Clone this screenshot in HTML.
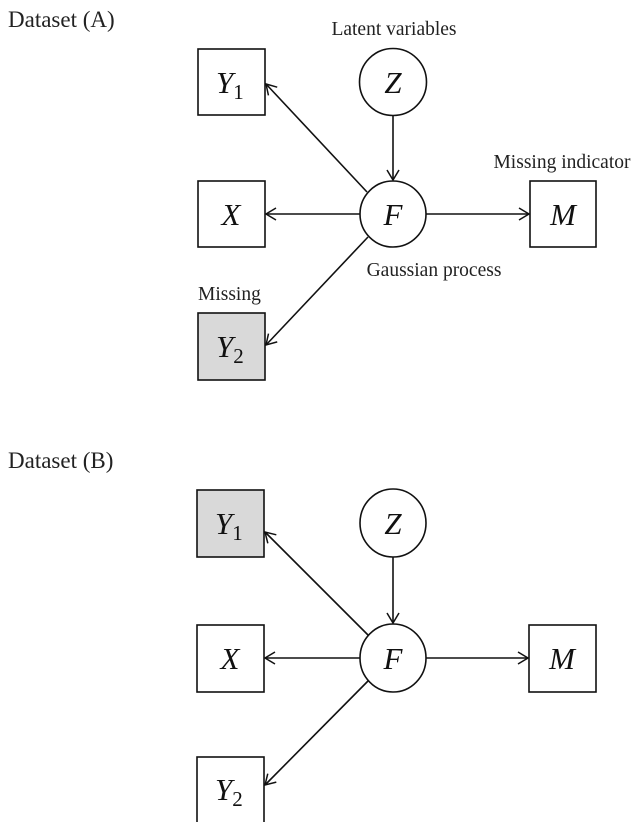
<!DOCTYPE html>
<html><head><style>
html,body{margin:0;padding:0;background:#fff;}
svg{display:block;}
.t{font-family:"Liberation Serif",serif;fill:#222;}
.m{font-family:"Liberation Serif",serif;font-style:italic;fill:#111;}
</style></head><body>
<svg width="640" height="822" viewBox="0 0 640 822" xmlns="http://www.w3.org/2000/svg">
<defs>
<marker id="a" markerWidth="14" markerHeight="14" refX="11" refY="7" orient="auto" markerUnits="userSpaceOnUse">
<path d="M1,1 L11,7 L1,13" fill="none" stroke="#111" stroke-width="1.5"/>
</marker>
</defs>
<g stroke="#111" stroke-width="1.6" fill="none">
<rect x="198" y="49" width="67" height="66" fill="#fff"/>
<circle cx="393" cy="82" r="33.5" fill="#fff"/>
<rect x="198" y="181" width="67" height="66" fill="#fff"/>
<circle cx="393" cy="214" r="33" fill="#fff"/>
<rect x="530" y="181" width="66" height="66" fill="#fff"/>
<rect x="198" y="313" width="67" height="67" fill="#d9d9d9"/>
<line x1="393" y1="116" x2="393" y2="180" marker-end="url(#a)"/>
<line x1="367" y1="192" x2="266" y2="84" marker-end="url(#a)"/>
<line x1="360" y1="214" x2="266" y2="214" marker-end="url(#a)"/>
<line x1="426" y1="214" x2="529" y2="214" marker-end="url(#a)"/>
<line x1="368" y1="237" x2="266" y2="345" marker-end="url(#a)"/>
<rect x="197" y="490" width="67" height="67" fill="#d9d9d9"/>
<ellipse cx="393" cy="523" rx="33" ry="34" fill="#fff"/>
<rect x="197" y="625" width="67" height="67" fill="#fff"/>
<ellipse cx="393" cy="658" rx="33" ry="34" fill="#fff"/>
<rect x="529" y="625" width="67" height="67" fill="#fff"/>
<rect x="197" y="757" width="67" height="70" fill="#fff"/>
<line x1="393" y1="557" x2="393" y2="623" marker-end="url(#a)"/>
<line x1="368" y1="635" x2="265" y2="532" marker-end="url(#a)"/>
<line x1="360" y1="658" x2="265" y2="658" marker-end="url(#a)"/>
<line x1="426" y1="658" x2="528" y2="658" marker-end="url(#a)"/>
<line x1="368" y1="681" x2="265" y2="785" marker-end="url(#a)"/>
</g>
<text class="t" x="8" y="27" font-size="23">Dataset (A)</text>
<text class="t" x="394" y="35" font-size="19.5" text-anchor="middle">Latent variables</text>
<text class="t" x="562" y="168" font-size="19.5" text-anchor="middle">Missing indicator</text>
<text class="t" x="434" y="276" font-size="19.5" text-anchor="middle">Gaussian process</text>
<text class="t" x="198" y="300" font-size="19.5">Missing</text>
<text class="t" x="8" y="468" font-size="23">Dataset (B)</text>
<g font-size="31">
<text class="m" x="216" y="93">Y<tspan font-style="normal" font-size="21" dy="6">1</tspan></text>
<text class="m" x="393" y="93" text-anchor="middle">Z</text>
<text class="m" x="231" y="225" text-anchor="middle">X</text>
<text class="m" x="393" y="225" text-anchor="middle">F</text>
<text class="m" x="563" y="225" text-anchor="middle">M</text>
<text class="m" x="216" y="357">Y<tspan font-style="normal" font-size="21" dy="6">2</tspan></text>
<text class="m" x="215" y="534">Y<tspan font-style="normal" font-size="21" dy="6">1</tspan></text>
<text class="m" x="393" y="534" text-anchor="middle">Z</text>
<text class="m" x="230" y="669" text-anchor="middle">X</text>
<text class="m" x="393" y="669" text-anchor="middle">F</text>
<text class="m" x="562" y="669" text-anchor="middle">M</text>
<text class="m" x="215" y="800">Y<tspan font-style="normal" font-size="21" dy="6">2</tspan></text>
</g>
</svg>
</body></html>
